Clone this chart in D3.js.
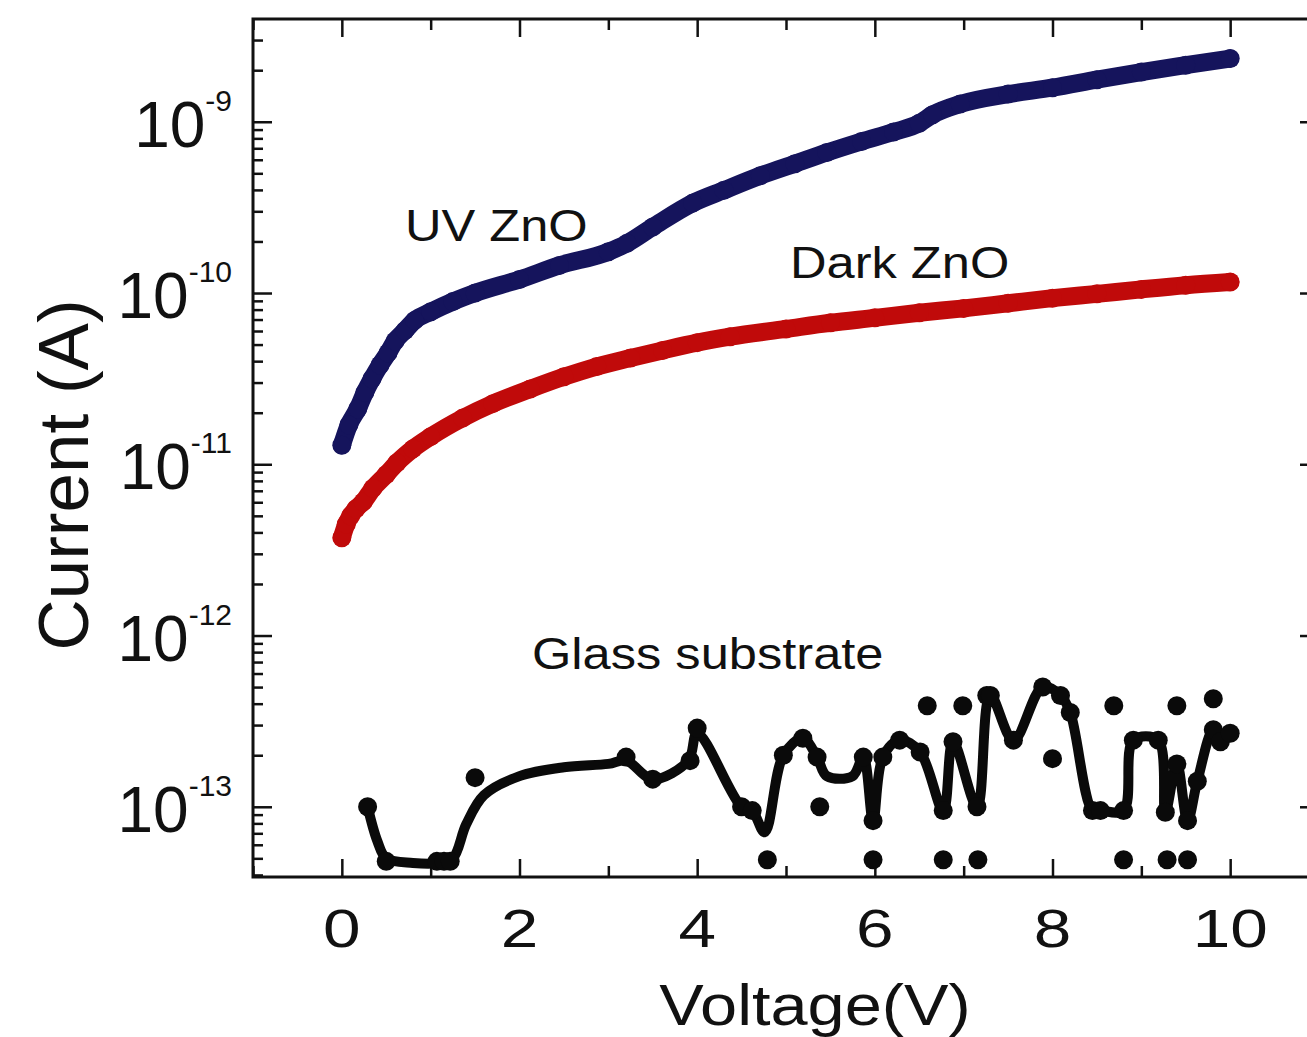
<!DOCTYPE html>
<html>
<head>
<meta charset="utf-8">
<script src="https://cdn.jsdelivr.net/npm/d3@7"></script>
<style>
  body { margin: 0; background: #fff; }
  svg { display: block; font-family: "Liberation Sans", Arial, sans-serif; }
  .frame { fill: none; stroke: #111; stroke-width: 3; }
  .tick line { stroke: #111; stroke-width: 2.5; }
  .tick text { display: none; }
</style>
</head>
<body>
<svg id="chart" width="1307" height="1037"></svg>
<script>
// UV ZnO (blue)
const uvVoltage = [0, 0.08, 0.18, 0.26, 0.34, 0.43, 0.52, 0.60, 0.71, 0.82, 1.0, 1.25, 1.5, 2.0, 2.45, 3.0, 3.21, 3.5, 3.95, 4.3, 4.71, 5.1, 5.46, 5.85, 6.21, 6.5, 6.65, 6.96, 7.5, 8.0, 8.5, 9.0, 9.5, 10.0];
const uvCurrent = [1.29e-11, 1.70e-11, 2.11e-11, 2.63e-11, 3.16e-11, 3.80e-11, 4.47e-11, 5.25e-11, 6.03e-11, 6.92e-11, 7.76e-11, 8.91e-11, 1.0e-10, 1.20e-10, 1.45e-10, 1.74e-10, 1.95e-10, 2.43e-10, 3.35e-10, 3.98e-10, 4.84e-10, 5.69e-10, 6.61e-10, 7.67e-10, 8.71e-10, 9.8e-10, 1.10e-9, 1.27e-9, 1.45e-9, 1.58e-9, 1.76e-9, 1.95e-9, 2.14e-9, 2.34e-9];

// Dark ZnO (red)
const darkVoltage = [0, 0.05, 0.1, 0.16, 0.24, 0.35, 0.5, 0.62, 0.8, 1.0, 1.36, 1.7, 2.12, 2.5, 2.87, 3.25, 3.61, 4.0, 4.37, 5.0, 5.5, 6.0, 6.5, 7.0, 7.5, 8.0, 8.5, 9.0, 9.5, 10.0];
const darkCurrent = [3.72e-12, 4.47e-12, 5.01e-12, 5.50e-12, 6.03e-12, 7.24e-12, 8.71e-12, 1.02e-11, 1.23e-11, 1.45e-11, 1.86e-11, 2.26e-11, 2.75e-11, 3.24e-11, 3.72e-11, 4.17e-11, 4.62e-11, 5.13e-11, 5.56e-11, 6.17e-11, 6.70e-11, 7.16e-11, 7.67e-11, 8.13e-11, 8.71e-11, 9.33e-11, 9.89e-11, 1.05e-10, 1.11e-10, 1.16e-10];

// Glass substrate: measured points
const glassVoltage = [0.29, 0.5, 1.07, 1.15, 1.22, 1.5, 3.2, 3.5, 3.92, 4.0, 4.5, 4.62, 4.79, 4.97, 5.19, 5.35, 5.38, 5.87, 5.98, 5.98, 6.09, 6.28, 6.51, 6.59, 6.77, 6.77, 6.88, 6.99, 7.15, 7.16, 7.26, 7.30, 7.56, 7.89, 8.0, 8.09, 8.20, 8.45, 8.54, 8.69, 8.80, 8.80, 8.91, 9.19, 9.27, 9.29, 9.40, 9.40, 9.52, 9.52, 9.63, 9.81, 9.81, 9.89, 10.0];
const glassCurrent = [1.0e-13, 4.8e-14, 4.8e-14, 4.8e-14, 4.8e-14, 1.48e-13, 1.95e-13, 1.45e-13, 1.86e-13, 2.88e-13, 1.0e-13, 9.5e-14, 4.9e-14, 2.0e-13, 2.51e-13, 1.95e-13, 1.0e-13, 1.95e-13, 4.9e-14, 8.3e-14, 1.95e-13, 2.45e-13, 2.09e-13, 3.89e-13, 4.9e-14, 9.5e-14, 2.40e-13, 3.89e-13, 1.0e-13, 4.9e-14, 4.47e-13, 4.47e-13, 2.45e-13, 5.01e-13, 1.91e-13, 4.47e-13, 3.55e-13, 9.5e-14, 9.5e-14, 3.89e-13, 4.9e-14, 9.5e-14, 2.45e-13, 2.45e-13, 9.3e-14, 4.9e-14, 3.89e-13, 1.78e-13, 4.9e-14, 8.3e-14, 1.41e-13, 4.27e-13, 2.82e-13, 2.40e-13, 2.69e-13];

// Glass substrate: guide line drawn through the points
const glassLineVoltage = [0.29, 0.4, 0.5, 0.8, 1.1, 1.25, 1.4, 1.6, 2.0, 2.5, 3.0, 3.2, 3.5, 3.9, 4.0, 4.5, 4.62, 4.76, 4.97, 5.19, 5.35, 5.46, 5.75, 5.87, 5.98, 6.09, 6.28, 6.51, 6.77, 6.88, 7.15, 7.30, 7.56, 7.89, 8.09, 8.20, 8.45, 8.54, 8.80, 8.91, 9.19, 9.27, 9.40, 9.52, 9.63, 9.81, 9.89, 10.0];
const glassLineCurrent = [1.0e-13, 6.3e-14, 5.0e-14, 4.7e-14, 4.7e-14, 5.0e-14, 7.9e-14, 1.17e-13, 1.51e-13, 1.70e-13, 1.78e-13, 1.86e-13, 1.45e-13, 1.86e-13, 2.69e-13, 1.0e-13, 9.5e-14, 7.1e-14, 2.0e-13, 2.51e-13, 1.95e-13, 1.51e-13, 1.51e-13, 1.95e-13, 8.3e-14, 1.95e-13, 2.45e-13, 2.09e-13, 9.5e-14, 2.40e-13, 1.0e-13, 4.47e-13, 2.45e-13, 5.01e-13, 4.47e-13, 3.55e-13, 9.5e-14, 9.5e-14, 9.5e-14, 2.45e-13, 2.45e-13, 9.3e-14, 1.78e-13, 8.3e-14, 1.41e-13, 2.82e-13, 2.40e-13, 2.69e-13];

const xTickLabels = ["0", "2", "4", "6", "8", "10"];
const yTickExponents = ["-9", "-10", "-11", "-12", "-13"];

const svg = d3.select("#chart");

const plot = { left: 253, right: 1319, top: 19, bottom: 877 };

const x = d3.scaleLinear().domain([-1, 11]).range([plot.left, plot.right]);
const y = d3.scaleLog().domain([Math.pow(10, -13.41), Math.pow(10, -8.40)]).range([plot.bottom, plot.top]);

const zip = (xs, ys) => xs.map((v, i) => [v, ys[i]]);

// ---- ticks ----
const majorX = d3.range(0, 11, 2);
const minorX = d3.range(-1, 12, 1).filter(d => d % 2 !== 0);
const majorY = [1e-9, 1e-10, 1e-11, 1e-12, 1e-13];
const minorY = y.ticks().filter(d => !majorY.some(m => Math.abs(d - m) / m < 1e-6));

function tickAxis(axisFn, scale, values, size, transform) {
    svg.append("g")
        .attr("transform", transform)
        .call(axisFn(scale).tickValues(values).tickSize(size).tickFormat(""))
        .call(g => g.select(".domain").remove());
}

tickAxis(d3.axisTop, x, majorX, 18, `translate(0,${plot.bottom})`);
tickAxis(d3.axisTop, x, minorX, 11, `translate(0,${plot.bottom})`);
tickAxis(d3.axisBottom, x, majorX, 18, `translate(0,${plot.top})`);
tickAxis(d3.axisBottom, x, minorX, 11, `translate(0,${plot.top})`);
tickAxis(d3.axisRight, y, majorY, 19, `translate(${plot.left},0)`);
tickAxis(d3.axisRight, y, minorY, 10, `translate(${plot.left},0)`);
tickAxis(d3.axisLeft, y, majorY, 19, `translate(${plot.right},0)`);
tickAxis(d3.axisLeft, y, minorY, 10, `translate(${plot.right},0)`);

svg.append("rect")
    .attr("class", "frame")
    .attr("x", plot.left)
    .attr("y", plot.top)
    .attr("width", plot.right - plot.left)
    .attr("height", plot.bottom - plot.top);

// ---- tick labels ----
svg.selectAll(".xlab")
    .data(majorX)
    .join("text")
    .attr("class", "xlab")
    .attr("transform", d => `translate(${x(d)},947) scale(1.25,1)`)
    .attr("text-anchor", "middle")
    .attr("font-size", 54)
    .attr("fill", "#111")
    .text((d, i) => xTickLabels[i]);

const ylab = svg.selectAll(".ylab")
    .data(majorY)
    .join("text")
    .attr("class", "ylab")
    .attr("x", 232)
    .attr("y", d => y(d) + 25)
    .attr("text-anchor", "end")
    .attr("fill", "#111");
ylab.append("tspan").attr("font-size", 64).text("10");
ylab.append("tspan").attr("font-size", 30).attr("dy", -36).text((d, i) => yTickExponents[i]);

// ---- axis titles ----
svg.append("text")
    .attr("transform", "translate(815,1025) scale(1.15,1)")
    .attr("text-anchor", "middle")
    .attr("font-size", 58)
    .attr("fill", "#111")
    .text("Voltage(V)");

svg.append("text")
    .attr("transform", "translate(88,475) rotate(-90)")
    .attr("text-anchor", "middle")
    .attr("font-size", 71)
    .attr("fill", "#111")
    .text("Current (A)");

// ---- series ----
function drawSeries(data, color, r, width, curve) {
    svg.append("path")
        .datum(data)
        .attr("fill", "none")
        .attr("stroke", color)
        .attr("stroke-width", width)
        .attr("stroke-linejoin", "round")
        .attr("stroke-linecap", "round")
        .attr("d", d3.line().x(d => x(d[0])).y(d => y(d[1])).curve(curve));
    svg.append("g")
        .selectAll("circle")
        .data(data)
        .join("circle")
        .attr("cx", d => x(d[0]))
        .attr("cy", d => y(d[1]))
        .attr("r", r)
        .attr("fill", color);
}

drawSeries(zip(uvVoltage, uvCurrent), "#15145c", 9.5, 18, d3.curveMonotoneX);
drawSeries(zip(darkVoltage, darkCurrent), "#c00a0a", 9.5, 18, d3.curveMonotoneX);

svg.append("path")
    .datum(zip(glassLineVoltage, glassLineCurrent))
    .attr("fill", "none")
    .attr("stroke", "#0a0a0a")
    .attr("stroke-width", 10)
    .attr("stroke-linejoin", "round")
    .attr("d", d3.line().x(d => x(d[0])).y(d => y(d[1])).curve(d3.curveCatmullRom.alpha(0.5)));

svg.append("g")
    .selectAll("circle")
    .data(zip(glassVoltage, glassCurrent))
    .join("circle")
    .attr("cx", d => x(d[0]))
    .attr("cy", d => y(d[1]))
    .attr("r", 9.5)
    .attr("fill", "#0a0a0a");

// ---- annotations ----
const notes = [
    { text: "UV ZnO", x: 405, y: 241 },
    { text: "Dark ZnO", x: 790, y: 278 },
    { text: "Glass substrate", x: 532, y: 669 }
];
svg.selectAll(".note")
    .data(notes)
    .join("text")
    .attr("class", "note")
    .attr("transform", d => `translate(${d.x},${d.y}) scale(1.15,1)`)
    .attr("font-size", 44)
    .attr("fill", "#111")
    .text(d => d.text);
</script>
</body>
</html>
